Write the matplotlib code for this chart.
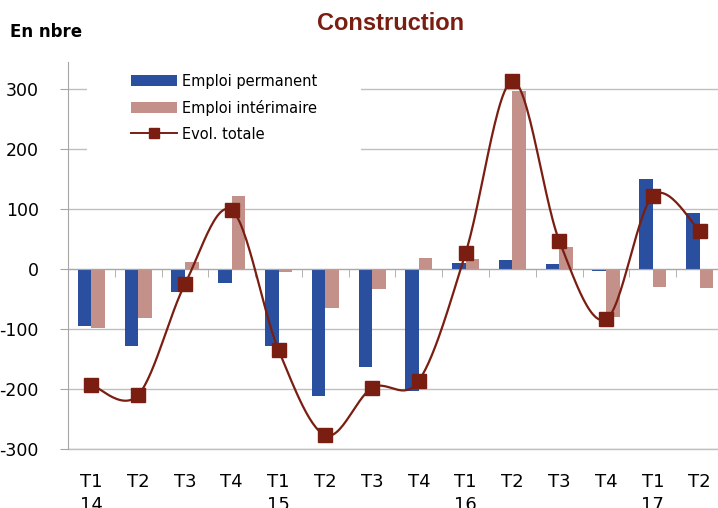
import numpy as np
import matplotlib
matplotlib.use('Agg')
import matplotlib.pyplot as plt
from matplotlib.patches import Rectangle

plt.rcParams['axes.unicode_minus'] = False

# quarters and years
quarters = ['T1', 'T2', 'T3', 'T4', 'T1', 'T2', 'T3', 'T4',
            'T1', 'T2', 'T3', 'T4', 'T1', 'T2']
years = ['14', '', '', '', '15', '', '', '', '16', '', '', '', '17', '']

# series
permanent = [-95, -128, -38, -24, -129, -211, -163, -204,
             10, 15, 8, -4, 150, 94]
interim = [-98, -82, 12, 122, -5, -65, -34, 18,
           16, 297, 37, -80, -30, -32]
total = [-193, -210, -25, 98, -135, -277, -198, -186,
         27, 313, 47, -84, 122, 64]

BLUE = '#2A4F9F'
PINK = '#C4918A'
RED = '#7A1E12'
GRID = '#BFBFBF'
AXIS = '#A6A6A6'


def smooth(x, y, n=30):
    """Catmull-Rom curve through the points (like Excel smoothed lines)."""
    p = np.column_stack((x, y)).astype(float)
    p = np.vstack((p[0], p, p[-1]))
    out = []
    t = np.linspace(0, 1, n)[:, None]
    for i in range(1, len(p) - 2):
        p0, p1, p2, p3 = p[i - 1], p[i], p[i + 1], p[i + 2]
        c = 0.5 * ((2 * p1) + (-p0 + p2) * t
                   + (2 * p0 - 5 * p1 + 4 * p2 - p3) * t ** 2
                   + (-p0 + 3 * p1 - 3 * p2 + p3) * t ** 3)
        out.append(c)
    c = np.vstack(out)
    return c[:, 0], c[:, 1]


fig = plt.figure(figsize=(7.18, 5.08), dpi=100)
ax = fig.add_axes([68 / 718, 59 / 508, 655 / 718, 387 / 508])

x = np.arange(len(quarters))
w = 0.29
b1 = ax.bar(x - w / 2, permanent, w, color=BLUE, zorder=2)
b2 = ax.bar(x + w / 2, interim, w, color=PINK, zorder=2)
xs, ys = smooth(x, total)
ax.plot(xs, ys, color=RED, lw=1.6, zorder=3)
ax.plot(x, total, ls='none', marker='s', ms=10, color=RED, zorder=4)
# legend proxy for line + marker
ln, = ax.plot([], [], color=RED, lw=1.4, marker='s', ms=7.5)

ax.set_xlim(-0.5, 13.5)
ax.set_ylim(-300, 345)
ax.set_yticks(np.arange(-300, 301, 100))
ax.yaxis.grid(True, color=GRID, lw=1)
ax.axhline(-300, color=GRID, lw=1, clip_on=False, zorder=0)
ax.set_axisbelow(True)
ax.tick_params(axis='y', length=6, color=AXIS, labelsize=12.5, pad=15)

for s in ['top', 'right']:
    ax.spines[s].set_visible(False)
ax.spines['left'].set_color(AXIS)
ax.spines['bottom'].set_position(('data', 0))
ax.spines['bottom'].set_color(AXIS)
ax.set_xticks(x)
ax.set_xticklabels([])
ax.tick_params(axis='x', which='major', length=0)
ax.set_xticks(np.arange(-0.5, 13.6, 1), minor=True)
ax.tick_params(axis='x', which='minor', length=6, color=AXIS)

# category labels at the bottom of the plot
sec = ax.secondary_xaxis(0)
sec.set_xticks(x)
sec.set_xticklabels([q + '\n' + yr for q, yr in zip(quarters, years)],
                    fontsize=13, linespacing=1.35)
sec.tick_params(length=0, pad=17)
sec.spines['bottom'].set_visible(False)

# white block behind the legend (hides the 300 gridline there)
ax.add_patch(Rectangle((19 / 655, 0.70), (361 - 87) / 655, 0.30,
                       transform=ax.transAxes, facecolor='white',
                       edgecolor='none', zorder=1))

leg = ax.legend([b1, b2, ln],
                ['Emploi permanent', 'Emploi intérimaire', 'Evol. totale'],
                loc='upper left', bbox_to_anchor=(51 / 655, 1.0),
                fontsize=10.5, handlelength=3.2, handleheight=0.7,
                labelspacing=0.75, frameon=False, borderpad=0.3,
                handletextpad=0.35)

fig.text(391 / 718, 1 - 23 / 508, 'Construction', ha='center', va='center',
         fontsize=17, fontweight='bold', color=RED, family='Liberation Sans')
fig.text(10 / 718, 1 - 32 / 508, 'En nbre', ha='left', va='center',
         fontsize=12, fontweight='bold', color='black')

fig.savefig('out.png', dpi=100)
